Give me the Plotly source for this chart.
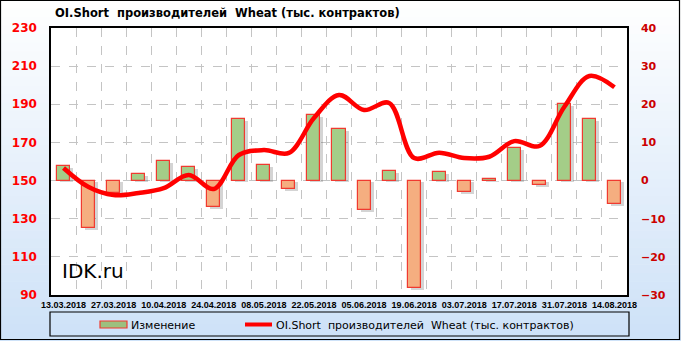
import plotly.graph_objects as go

dates = ["13.03.2018", "20.03.2018", "27.03.2018", "03.04.2018", "10.04.2018", "17.04.2018",
         "24.04.2018", "01.05.2018", "08.05.2018", "15.05.2018", "22.05.2018", "29.05.2018",
         "05.06.2018", "12.06.2018", "19.06.2018", "26.06.2018", "03.07.2018", "10.07.2018",
         "17.07.2018", "24.07.2018", "31.07.2018", "07.08.2018", "14.08.2018"]
change = [3.8, -12.4, -3.2, 1.6, 5.1, 3.5, -7.0, 16.2, 4.1, -2.2, 17.2, 13.5,
          -7.7, 2.6, -28.1, 2.3, -3.1, 0.5, 8.5, -1.2, 20.0, 16.2, -6.1]
oi_short = [156.6, 146.6, 142.4, 143.5, 146.0, 152.9, 145.6, 163.4, 166.0, 164.5, 182.8, 194.9,
            187.0, 190.7, 161.8, 164.6, 161.8, 162.5, 170.7, 168.1, 188.7, 204.8, 198.9]
title_text = "OI.Short\u00a0 производителей\u00a0 Wheat (тыс. контрактов)"
bar_name = "Изменение"

W, H = 681, 341
L, R, T, B = 51, 54, 28, 46
PW, PH = W - L - R, H - T - B

def px(xp):
    return (xp - L) / PW

def py(yp):
    return (H - B - yp) / PH

x = list(range(len(dates)))
green, orange = "#a4cd88", "#f5ae80"
colors = [green if v >= 0 else orange for v in change]

fig = go.Figure()
# shadow
fig.add_trace(go.Bar(x=x, y=change, base=-0.5, width=0.52, offset=-0.14,
                     marker=dict(color="rgba(60,60,60,0.22)", line=dict(width=0)),
                     hoverinfo="skip", showlegend=False, yaxis="y"))
fig.add_trace(go.Bar(x=x, y=change, width=0.52, offset=-0.26, name=bar_name,
                     marker=dict(color=colors, line=dict(color="#f03a30", width=1.2)),
                     showlegend=False, yaxis="y"))
fig.add_trace(go.Scatter(x=x, y=oi_short, mode="lines", name=title_text,
                         line=dict(color="#ff0000", width=4.5, shape="spline", smoothing=1.0),
                         showlegend=False, yaxis="y2"))

shapes = []
# background gradient
n = 40
top_c = (255, 255, 255)
bot_c = (206, 226, 248)
for i in range(n):
    t = i / (n - 1)
    c = tuple(int(top_c[k] + (bot_c[k] - top_c[k]) * t) for k in range(3))
    y0 = i * H / n
    y1 = (i + 1) * H / n + 0.5
    shapes.append(dict(type="rect", xref="paper", yref="paper", layer="below",
                       x0=px(0), x1=px(W), y0=py(y1), y1=py(y0),
                       fillcolor="rgb(%d,%d,%d)" % c, line=dict(width=0)))
# plot area white
shapes.append(dict(type="rect", xref="paper", yref="paper", layer="below",
                   x0=0, x1=1, y0=0, y1=1, fillcolor="white", line=dict(width=0)))
# outer border
shapes.append(dict(type="rect", xref="paper", yref="paper", layer="above",
                   x0=px(0.5), x1=px(W - 1.5), y0=py(H - 1.5), y1=py(0.5),
                   line=dict(color="black", width=1.2)))
# legend box
shapes.append(dict(type="rect", xref="paper", yref="paper", layer="above",
                   x0=px(50), x1=px(629), y0=py(336), y1=py(312),
                   line=dict(color="black", width=1.2), fillcolor="rgba(0,0,0,0)"))
# legend bar symbol
shapes.append(dict(type="rect", xref="paper", yref="paper", layer="above",
                   x0=px(100), x1=px(127), y0=py(328), y1=py(321),
                   fillcolor="#9cc07f", line=dict(color="#f03a30", width=1.2)))
# legend line symbol
shapes.append(dict(type="line", xref="paper", yref="paper", layer="above",
                   x0=px(245), x1=px(272), y0=py(324.5), y1=py(324.5),
                   line=dict(color="#ff0000", width=4)))

annotations = [
    dict(text="<b>" + title_text + "</b>", xref="paper", yref="paper", x=px(53), y=py(13),
         xanchor="left", yanchor="middle", showarrow=False,
         font=dict(family="DejaVu Sans", size=11.5, color="black")),
    dict(text="IDK.ru", xref="paper", yref="paper", x=px(60), y=py(271),
         xanchor="left", yanchor="middle", showarrow=False,
         font=dict(family="DejaVu Sans", size=20, color="black")),
    dict(text=bar_name, xref="paper", yref="paper", x=px(129), y=py(325),
         xanchor="left", yanchor="middle", showarrow=False,
         font=dict(family="DejaVu Sans", size=11, color="black")),
    dict(text=title_text, xref="paper", yref="paper", x=px(274), y=py(325),
         xanchor="left", yanchor="middle", showarrow=False,
         font=dict(family="DejaVu Sans", size=11, color="black")),
]

fig.update_layout(
    width=W, height=H,
    margin=dict(l=L, r=R, t=T, b=B, pad=0),
    paper_bgcolor="rgba(0,0,0,0)", plot_bgcolor="rgba(0,0,0,0)",
    barmode="overlay", bargap=0,
    shapes=shapes, annotations=annotations,
    showlegend=False,
    xaxis=dict(range=[-0.5, len(dates) - 0.5], tickmode="array",
               tickvals=x[::2], ticktext=dates[::2], showgrid=False, zeroline=False,
               tickfont=dict(family="Liberation Sans", size=9, color="black", weight="bold"),
               showline=True, linecolor="black", linewidth=1.5, mirror=True, ticks="",
               minor=dict(tickmode="linear", tick0=0.5, dtick=1, showgrid=True,
                          gridcolor="#c4c4c4", griddash="dash", gridwidth=1)),
    yaxis=dict(range=[-30, 40], tick0=-30, dtick=10, side="right", showgrid=True,
               gridcolor="#c4c4c4", griddash="dash", zeroline=False,
               tickfont=dict(family="DejaVu Sans", size=11, color="#cc0000", weight="bold"),
               showline=True, linecolor="black", linewidth=1.5, ticks="",
               ticklabelstandoff=10),
    yaxis2=dict(range=[90, 230], tick0=90, dtick=20, side="left", overlaying="y", showgrid=False,
                zeroline=False,
                tickfont=dict(family="DejaVu Sans", size=12, color="#ff0000", weight="bold"),
                showline=True, linecolor="black", linewidth=1.5, ticks="",
                ticklabelstandoff=10),
)

fig.write_html("out.html")
